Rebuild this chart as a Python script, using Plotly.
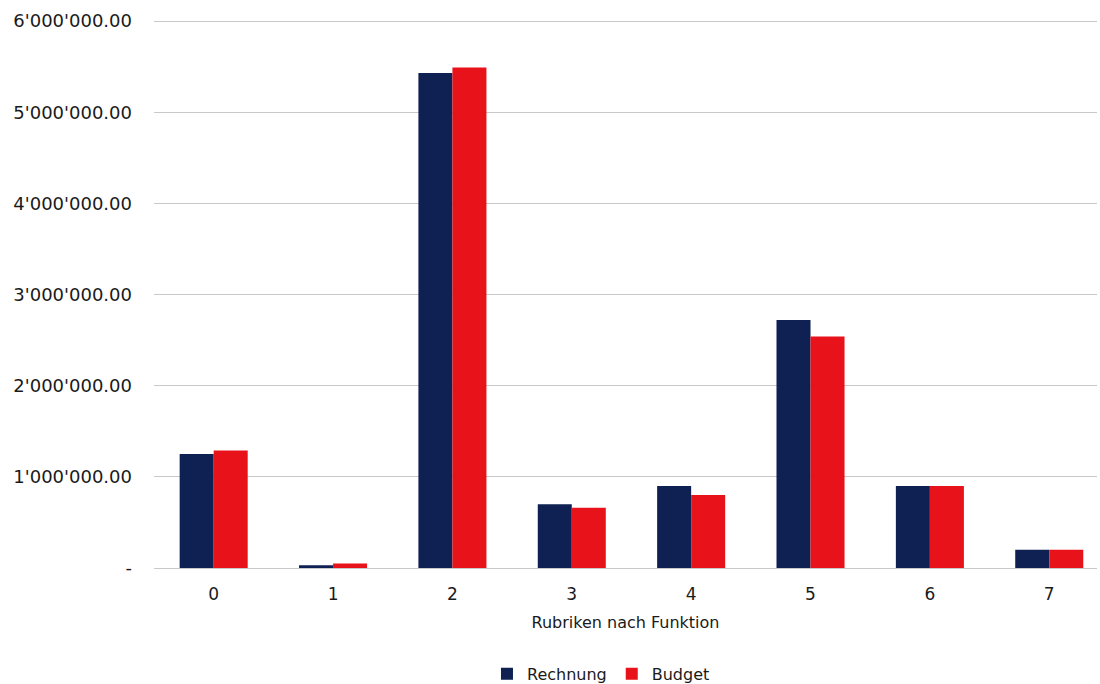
import plotly.graph_objects as go

categories = ["0", "1", "2", "3", "4", "5", "6", "7"]
rechnung = [1250000, 30000, 5430000, 700000, 900000, 2720000, 900000, 200000]
budget = [1290000, 50000, 5490000, 660000, 800000, 2540000, 900000, 200000]
tick_vals = [0, 1000000, 2000000, 3000000, 4000000, 5000000, 6000000]
tick_text = ["-", "1'000'000.00", "2'000'000.00", "3'000'000.00", "4'000'000.00",
             "5'000'000.00", "6'000'000.00"]

font_family = "'DejaVu Sans', sans-serif"

fig = go.Figure()
fig.add_trace(go.Bar(x=categories, y=rechnung, name="Rechnung", marker_color="#0f2152",
                     marker_line_width=0))
fig.add_trace(go.Bar(x=categories, y=budget, name="Budget", marker_color="#e8131a",
                     marker_line_width=0))

fig.update_layout(
    width=1100, height=684,
    margin=dict(l=154, r=3, t=20, b=116, autoexpand=False),
    paper_bgcolor="white", plot_bgcolor="white",
    barmode="group", bargap=0.43, bargroupgap=0,
    font=dict(family=font_family, size=16, color="#1a1a1a"),
    showlegend=True,
    legend=dict(orientation="h", x=0.474, xanchor="center", y=-0.162, yanchor="top",
                font=dict(size=16), itemwidth=30, traceorder="normal"),
)
fig.update_xaxes(
    type="category", range=[-0.5, 7.4], automargin=False,
    showgrid=False, showline=False, ticks="",
    tickfont=dict(size=17), ticklabelstandoff=14,
    title=dict(text="Rubriken nach Funktion", font=dict(size=16), standoff=13),
)
fig.update_yaxes(
    range=[0, 6012000], tickvals=tick_vals, ticktext=tick_text, automargin=False,
    showgrid=True, gridcolor="#c8c8c8", gridwidth=1,
    zeroline=True, zerolinecolor="#c8c8c8", zerolinewidth=1,
    showline=False, ticks="", tickfont=dict(size=18),
    ticklabelstandoff=21,
)

fig.write_html("out.html", config={"displayModeBar": False},
               post_script="document.body.style.margin='0';")
